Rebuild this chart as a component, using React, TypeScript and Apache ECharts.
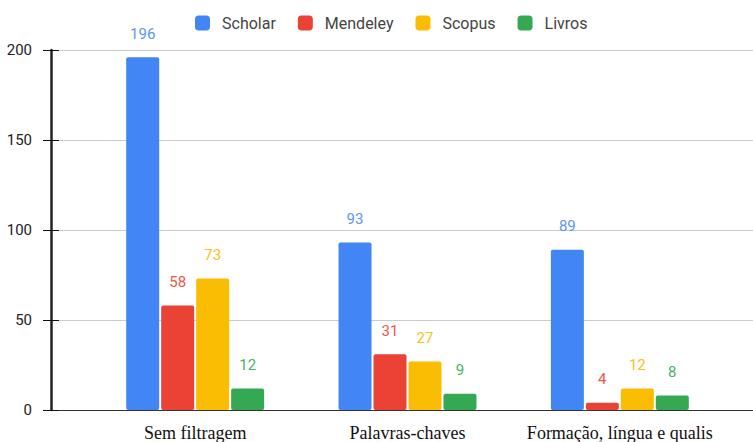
import React, { useEffect, useRef } from "react";
import * as echarts from "echarts";

const categories = ["Sem filtragem", "Palavras-chaves", "Formação, língua e qualis"];
const seriesNames = ["Scholar", "Mendeley", "Scopus", "Livros"];
const scholar = [196, 93, 89];
const mendeley = [58, 31, 4];
const scopus = [73, 27, 12];
const livros = [12, 9, 8];
const colors = ["#4285F4", "#EA4335", "#FBBC04", "#34A853"];
const labelColors = ["#5A95F5", "#EC5649", "#FBC11B", "#4AB266"];
const yMin = 0;
const yMax = 200;
const yInterval = 50;

export default function App() {
  const ref = useRef<HTMLDivElement>(null);
  useEffect(() => {
    if (!ref.current) return;
    const chart = echarts.init(ref.current, null, { renderer: "svg" });
    const values = [scholar, mendeley, scopus, livros];
    const font = "Roboto, Arial, sans-serif";
    chart.setOption({
      animation: false,
      textStyle: { fontFamily: font },
      legend: {
        left: 190,
        top: 10,
        itemWidth: 15,
        itemHeight: 15,
        itemGap: 22,
        icon: "roundRect",
        textStyle: { fontSize: 16, color: "#444", fontFamily: font, padding: [0, 0, 0, 7] },
        data: seriesNames,
      },
      grid: [
        { left: 51, right: 0, top: 50, bottom: 32 },
        { left: 89, right: 27, top: 50, bottom: 32 },
        { left: 51, right: 0, top: 50, bottom: 32 },
      ],
      xAxis: [
        {
          gridIndex: 0,
          type: "value",
          min: 0,
          max: 1,
          axisLine: { show: true, onZero: false, lineStyle: { color: "#333", width: 1 } },
          axisTick: { show: false },
          axisLabel: { show: false },
          splitLine: { show: false },
        },
        {
          gridIndex: 1,
          type: "category",
          data: categories,
          axisLine: { show: false },
          axisTick: { show: false },
          axisLabel: {
            interval: 0,
            margin: 14,
            fontFamily: "'Liberation Serif', 'Times New Roman', serif",
            fontSize: 18,
            color: "#111",
          },
        },
        {
          gridIndex: 2,
          type: "value",
          min: 0,
          max: 1,
          show: false,
        },
      ],
      yAxis: [
        {
          gridIndex: 0,
          type: "value",
          min: yMin,
          max: yMax,
          interval: yInterval,
          axisLine: { show: false },
          axisTick: { show: true, length: 8, lineStyle: { color: "#111" } },
          axisLabel: { margin: 19, fontSize: 15, color: "#222", fontFamily: font },
          splitLine: { show: true, lineStyle: { color: "#cccccc", width: 1 } },
        },
        {
          gridIndex: 1,
          type: "value",
          min: yMin,
          max: yMax,
          interval: yInterval,
          show: false,
        },
        {
          gridIndex: 2,
          type: "value",
          min: yMin,
          max: yMax,
          interval: yInterval,
          axisLine: { show: true, onZero: false, lineStyle: { color: "#222", width: 2.5 } },
          axisTick: { show: true, inside: true, length: 8, lineStyle: { color: "#111" } },
          axisLabel: { show: false },
          splitLine: { show: false },
        },
      ],
      series: seriesNames.map((name, i) => ({
        name,
        type: "bar",
        xAxisIndex: 1,
        yAxisIndex: 1,
        data: values[i],
        barWidth: 33,
        barGap: "6%",
        itemStyle: { color: colors[i], borderRadius: 2 },
        label: {
          show: true,
          position: "top",
          distance: 16,
          fontSize: 15,
          fontFamily: font,
          color: labelColors[i],
        },
      })),
    });
    return () => chart.dispose();
  }, []);
  return (
    <div
      ref={ref}
      style={{ position: "fixed", left: 0, top: 0, width: 753, height: 442, background: "#fff" }}
    />
  );
}
